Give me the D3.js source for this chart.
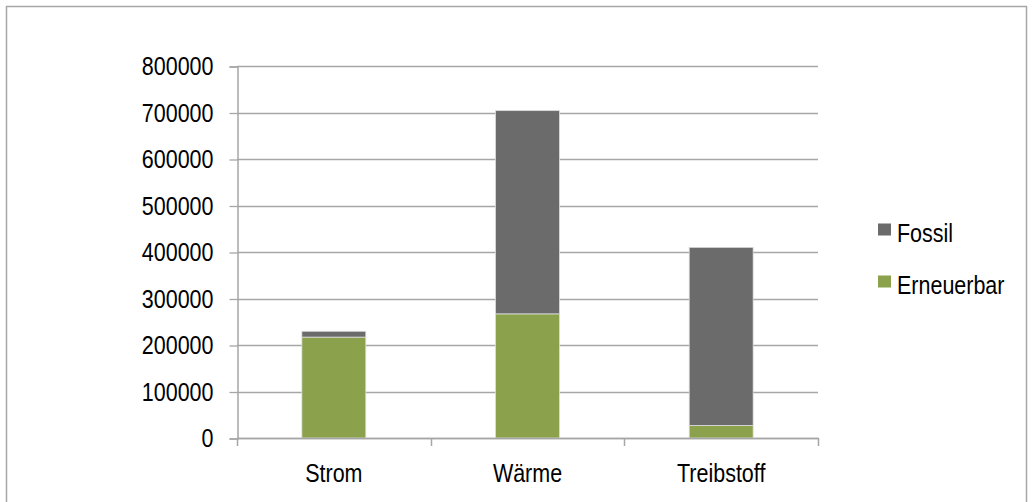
<!DOCTYPE html>
<html>
<head>
<meta charset="utf-8">
<script src="https://cdn.jsdelivr.net/npm/d3@7"></script>
<style>
  html, body { margin: 0; padding: 0; background: #fff; }
  svg { display: block; }
  text { font-family: "Liberation Sans", Arial, sans-serif; fill: #000; }
</style>
</head>
<body>
<svg id="chart" width="1034" height="502"></svg>
<script>
// Energy use by sector, split into renewable and fossil sources
const categories = ["Strom", "Wärme", "Treibstoff"];
const erneuerbar = [217000, 267000, 27000];
const fossil = [12500, 437000, 383000];
const yTicks = [0, 100000, 200000, 300000, 400000, 500000, 600000, 700000, 800000];
const seriesNames = ["Fossil", "Erneuerbar"];
const seriesColors = ["#6b6b6b", "#8ba14c"];

const svg = d3.select("#chart");
const W = 1034, H = 502;
const FONT_SIZE = 25;
const NARROW = 0.86; // horizontal squeeze for a condensed look

// Outer frame
svg.append("rect")
  .attr("x", 6.5).attr("y", 6.5)
  .attr("width", W - 14).attr("height", H + 20)
  .attr("fill", "none").attr("stroke", "#a6a6a6").attr("stroke-width", 1.5);

const plot = { left: 237, right: 818, top: 66, bottom: 438 };

const x = d3.scaleBand().domain(categories).range([plot.left, plot.right]).padding(0);
const y = d3.scaleLinear().domain([0, 800000]).range([plot.bottom, plot.top]);

const gridColor = "#a6a6a6";

// Places a condensed text label at (px, py)
function narrowText(sel, px, py) {
  sel.attr("transform", (d, i) => `translate(${px(d, i)},${py(d, i)}) scale(${NARROW},1)`)
     .attr("x", 0).attr("y", 0)
     .attr("font-size", FONT_SIZE);
}

// Horizontal gridlines
svg.append("g")
  .selectAll("line")
  .data(yTicks)
  .join("line")
  .attr("x1", plot.left).attr("x2", plot.right)
  .attr("y1", d => Math.round(y(d)) + 0.5).attr("y2", d => Math.round(y(d)) + 0.5)
  .attr("stroke", gridColor).attr("stroke-width", 1.3);

// Y axis
const yAxis = d3.axisLeft(y).tickValues(yTicks).tickFormat(d3.format("d")).tickSize(8).tickPadding(16);
const yg = svg.append("g").attr("transform", `translate(${plot.left + 0.5},0.5)`).call(yAxis);
yg.select(".domain").attr("stroke", gridColor).attr("stroke-width", 1.5);
yg.selectAll(".tick line").attr("stroke", gridColor).attr("stroke-width", 1.3);
yg.selectAll(".tick text")
  .attr("transform", `translate(-24,0) scale(${NARROW},1)`)
  .attr("x", 0)
  .attr("font-size", FONT_SIZE).attr("fill", "#000")
  .style("font-family", '"Liberation Sans", Arial, sans-serif');

// Stacked bars
const stackData = categories.map((c, i) => ({ cat: c, Erneuerbar: erneuerbar[i], Fossil: fossil[i] }));
const stack = d3.stack().keys(["Erneuerbar", "Fossil"]);
const layers = stack(stackData);
const color = d3.scaleOrdinal().domain(seriesNames).range(seriesColors);
const barW = x.bandwidth() * 0.33;

svg.append("g")
  .selectAll("g")
  .data(layers)
  .join("g")
  .attr("fill", d => color(d.key))
  .selectAll("rect")
  .data(d => d)
  .join("rect")
  .attr("x", d => x(d.data.cat) + (x.bandwidth() - barW) / 2)
  .attr("width", barW)
  .attr("y", d => y(d[1]))
  .attr("height", d => y(d[0]) - y(d[1]))
  .attr("stroke", "#dcdcdc").attr("stroke-width", 0.8);

// X axis with tick marks on category boundaries
const xg = svg.append("g");
xg.append("line")
  .attr("x1", plot.left).attr("x2", plot.right + 1)
  .attr("y1", plot.bottom + 0.5).attr("y2", plot.bottom + 0.5)
  .attr("stroke", gridColor).attr("stroke-width", 1.5);
const bounds = categories.map(c => x(c)).concat([plot.right]);
xg.selectAll("line.tk")
  .data(bounds)
  .join("line")
  .attr("class", "tk")
  .attr("x1", d => Math.round(d) + 0.5).attr("x2", d => Math.round(d) + 0.5)
  .attr("y1", plot.bottom).attr("y2", plot.bottom + 8)
  .attr("stroke", gridColor).attr("stroke-width", 1.5);
xg.selectAll("text")
  .data(categories)
  .join("text")
  .attr("text-anchor", "middle")
  .call(narrowText, d => x(d) + x.bandwidth() / 2, () => 482)
  .text(d => d);

// Legend
const legend = svg.append("g");
const rows = [{ name: "Fossil", cy: 229.5 }, { name: "Erneuerbar", cy: 281.5 }];
legend.selectAll("rect")
  .data(rows)
  .join("rect")
  .attr("x", 878).attr("y", d => d.cy - 6)
  .attr("width", 13).attr("height", 12)
  .attr("fill", d => color(d.name));
legend.selectAll("text")
  .data(rows)
  .join("text")
  .call(narrowText, () => 897, d => d.cy + 12)
  .text(d => d.name);
</script>
</body>
</html>
